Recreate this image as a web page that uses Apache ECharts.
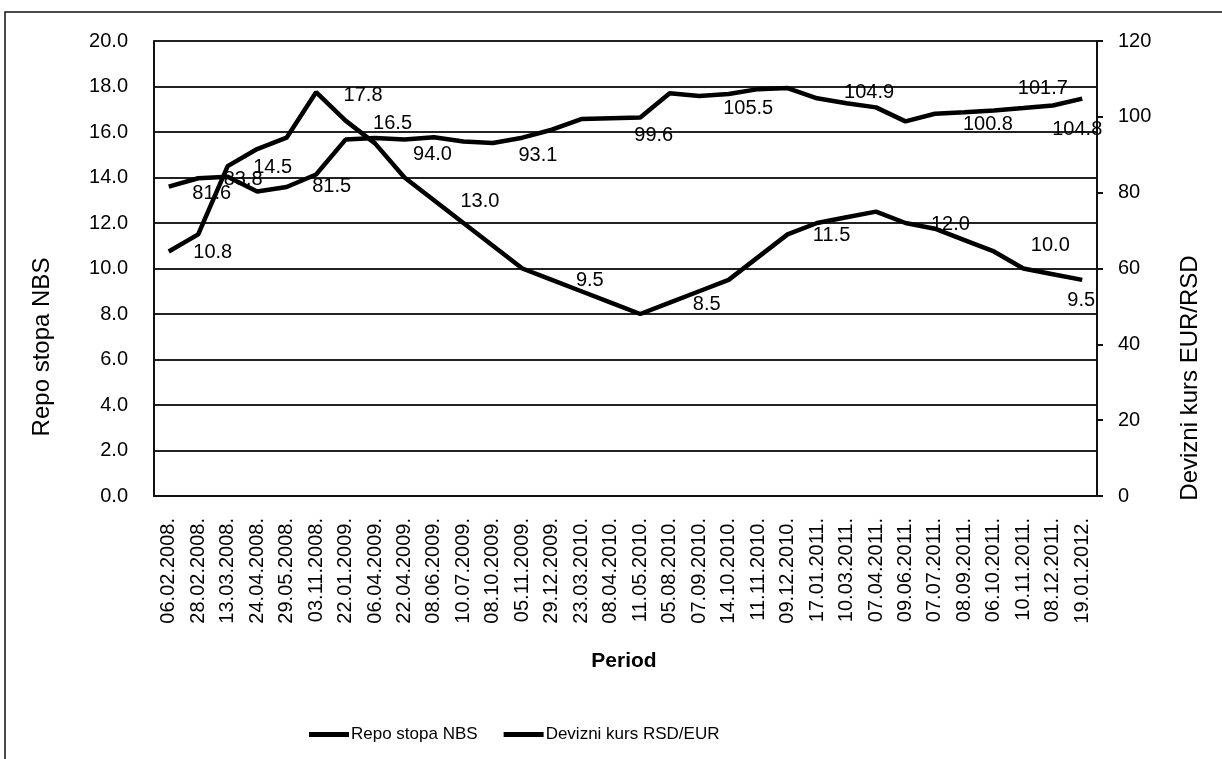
<!DOCTYPE html>
<html>
<head>
<meta charset="utf-8">
<script src="https://cdn.jsdelivr.net/npm/echarts@6/dist/echarts.min.js"></script>
<style>
html,body{margin:0;padding:0;background:#fff;}
#chart{width:1222px;height:759px;}
</style>
</head>
<body>
<div id="chart"></div>
<script>
// ---- data ----
const categories = ['06.02.2008.','28.02.2008.','13.03.2008.','24.04.2008.','29.05.2008.','03.11.2008.','22.01.2009.','06.04.2009.','22.04.2009.','08.06.2009.','10.07.2009.','08.10.2009.','05.11.2009.','29.12.2009.','23.03.2010.','08.04.2010.','11.05.2010.','05.08.2010.','07.09.2010.','14.10.2010.','11.11.2010.','09.12.2010.','17.01.2011.','10.03.2011.','07.04.2011.','09.06.2011.','07.07.2011.','08.09.2011.','06.10.2011.','10.11.2011.','08.12.2011.','19.01.2012.'];
const repoStopa = [10.75,11.5,14.5,15.25,15.75,17.75,16.5,15.5,14.0,13.0,12.0,11.0,10.0,9.5,9.0,8.5,8.0,8.5,9.0,9.5,10.5,11.5,12.0,12.25,12.5,12.0,11.75,11.25,10.75,10.0,9.75,9.5];
const deviznKurs = [81.6,83.8,84.2,80.3,81.5,84.8,94.0,94.4,94.0,94.6,93.5,93.1,94.5,96.6,99.4,99.6,99.8,106.2,105.5,106.0,107.3,107.6,104.9,103.6,102.5,98.8,100.8,101.2,101.7,102.3,103.0,104.8];
const leftTicks = {min:0, max:20, interval:2};
const rightTicks = {min:0, max:120, interval:20};

// ---- label placement (style only) ----
const repoLabelOffsets = {0:[44,1],2:[45,1],5:[47,3],6:[47,3],9:[46,1],13:[38,1],17:[37,2],21:[44,1],25:[45,1],29:[27,-23],31:[-1,21]};
const kursLabelOffsets = {0:[43,7],1:[45,1],4:[45,0],8:[28,15],11:[45,12],15:[43,17],18:[49,13],22:[52,-6],26:[53,11],28:[49,-22],31:[-5,31]};

const FONT = '"Liberation Sans", Arial, sans-serif';

function withLabels(values, offsets){
  return values.map((v,i)=>{
    const o = offsets[i];
    if(!o) return {value:v};
    return {value:v, label:{show:true, position:'inside', offset:o,
      formatter:(p)=>Number(p.value).toFixed(1),
      color:'#000', fontSize:20, fontFamily:FONT}};
  });
}

const chart = echarts.init(document.getElementById('chart'), null, {renderer:'canvas'});
chart.setOption({
  backgroundColor:'#fff',
  animation:false,
  textStyle:{fontFamily:FONT, color:'#000'},
  grid:{left:154, right:125, top:41, bottom:263, containLabel:false},
  legend:{
    data:['Repo stopa NBS','Devizni kurs RSD/EUR'],
    left:304, top:721, icon:'rect', itemWidth:40, itemHeight:5, itemGap:26,
    textStyle:{fontSize:17, color:'#000', fontFamily:FONT, padding:[0,0,0,-3]}
  },
  xAxis:{
    type:'category', data:categories, boundaryGap:true,
    axisLine:{show:true, lineStyle:{color:'#111', width:2}},
    axisTick:{show:false},
    axisLabel:{rotate:90, interval:0, fontSize:20, color:'#000', fontFamily:FONT, margin:22},
    splitLine:{show:false}
  },
  yAxis:[
    {type:'value', min:leftTicks.min, max:leftTicks.max, interval:leftTicks.interval,
     axisLine:{show:true, lineStyle:{color:'#111', width:2}},
     axisTick:{show:false},
     axisLabel:{formatter:(v)=>v.toFixed(1), fontSize:20, color:'#000', fontFamily:FONT, margin:26},
     splitLine:{show:true, lineStyle:{color:'#222', width:2}}},
    {type:'value', min:rightTicks.min, max:rightTicks.max, interval:rightTicks.interval, position:'right',
     axisLine:{show:true, lineStyle:{color:'#111', width:2}},
     axisTick:{show:true, inside:false, length:6, lineStyle:{color:'#111', width:2}},
     axisLabel:{fontSize:20, color:'#000', fontFamily:FONT, margin:21},
     splitLine:{show:false}}
  ],
  series:[
    {name:'Repo stopa NBS', type:'line', yAxisIndex:0, data:withLabels(repoStopa, repoLabelOffsets),
     symbol:'circle', symbolSize:0.1, showSymbol:true, showAllSymbol:true,
     itemStyle:{color:'#000'}, lineStyle:{color:'#000', width:4.5}, z:3},
    {name:'Devizni kurs RSD/EUR', type:'line', yAxisIndex:1, data:withLabels(deviznKurs, kursLabelOffsets),
     symbol:'circle', symbolSize:0.1, showSymbol:true, showAllSymbol:true,
     itemStyle:{color:'#000'}, lineStyle:{color:'#000', width:4.5}, z:3}
  ],
  graphic:[
    {type:'rect', shape:{x:5, y:12, width:1400, height:900}, style:{fill:null, stroke:'#111', lineWidth:1.5}, silent:true, z:-1},
    {type:'text', x:42, y:347, rotation:Math.PI/2, style:{text:'Repo stopa NBS', font:'24px '+FONT, fill:'#000', align:'center', verticalAlign:'middle'}},
    {type:'text', x:1190, y:378, rotation:Math.PI/2, style:{text:'Devizni kurs EUR/RSD', font:'24px '+FONT, fill:'#000', align:'center', verticalAlign:'middle'}},
    {type:'text', x:624, y:661, style:{text:'Period', font:'bold 21px '+FONT, fill:'#000', align:'center', verticalAlign:'middle'}}
  ]
});
</script>
</body>
</html>
